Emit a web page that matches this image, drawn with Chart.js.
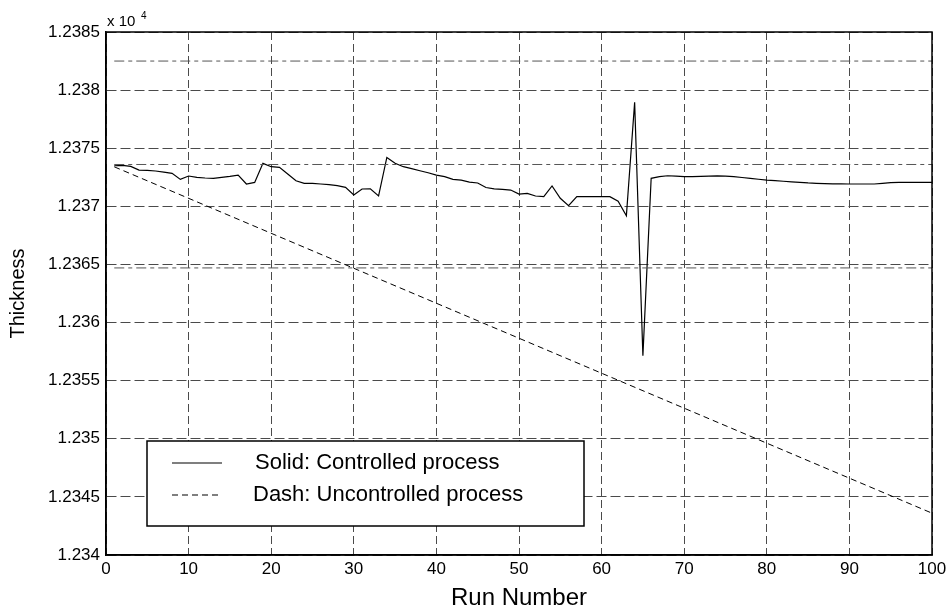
<!DOCTYPE html>
<html lang="en">
<head>
    <meta charset="UTF-8">
    <title>Thickness vs Run Number</title>
    <script src="https://cdn.jsdelivr.net/npm/chart.js"></script>
    <style>
        body { margin: 0; background: #fff; }
        #chart-container { width: 951px; height: 611px; }
    </style>
</head>
<body>
    <div id="chart-container">
        <canvas id="thicknessChart" width="951" height="611"></canvas>
    </div>
    <script>
        // thickness (controlled process), runs 1..100
        const controlled = [
            12373.49, 12373.53, 12373.44, 12373.12, 12373.10, 12373.04, 12372.95, 12372.84, 12372.32, 12372.61,
            12372.49, 12372.44, 12372.41, 12372.49, 12372.58, 12372.69, 12371.92, 12372.06, 12373.70, 12373.41,
            12373.35, 12372.78, 12372.20, 12371.98, 12371.98, 12371.92, 12371.86, 12371.78, 12371.63, 12370.97,
            12371.49, 12371.51, 12370.89, 12374.21, 12373.70, 12373.41, 12373.24, 12373.06, 12372.89, 12372.69,
            12372.55, 12372.32, 12372.26, 12372.09, 12372.01, 12371.62, 12371.51, 12371.46, 12371.40, 12371.06,
            12371.12, 12370.89, 12370.83, 12371.75, 12370.69, 12370.05, 12370.83, 12370.83, 12370.83, 12370.83,
            12370.83, 12370.45, 12369.19, 12378.95, 12357.14, 12372.41, 12372.55, 12372.63, 12372.60, 12372.55,
            12372.55, 12372.58, 12372.60, 12372.62, 12372.60, 12372.55, 12372.48, 12372.40, 12372.33, 12372.26,
            12372.21, 12372.16, 12372.11, 12372.06, 12372.01, 12371.98, 12371.96, 12371.94, 12371.93, 12371.92,
            12371.92, 12371.92, 12371.92, 12371.98, 12372.04, 12372.06, 12372.06, 12372.06, 12372.06, 12372.06
        ];
        const runs = controlled.map((v, i) => i + 1);

        // uncontrolled process is a straight drift
        const uncontrolledRuns = [1, 100];
        const uncontrolled = [12373.4, 12343.6];

        // horizontal reference lines (upper limit, target, lower limit)
        const limitRuns = [1, 100];
        const limits = [12382.5, 12373.6, 12364.7];

        const xTicks = [0, 10, 20, 30, 40, 50, 60, 70, 80, 90, 100];
        const yMin = 12340, yMax = 12385, yStep = 5;

        const legendLabels = ['Solid: Controlled process', 'Dash: Uncontrolled process'];
        const axisTitles = { x: 'Run Number', y: 'Thickness' };
        const FONT = '"Liberation Sans", Arial, sans-serif';
        const GRID = '#4a4a4a';

        const toPoints = (xs, ys) => xs.map((x, i) => ({ x: x, y: ys[i] }));

        const datasets = [];
        limits.forEach(v => {
            datasets.push({
                data: toPoints(limitRuns, limitRuns.map(() => v)),
                borderColor: '#555',
                borderWidth: 1,
                borderDash: [10, 4, 4, 4],
                pointRadius: 0
            });
        });
        datasets.push({
            label: legendLabels[1],
            data: toPoints(uncontrolledRuns, uncontrolled),
            borderColor: '#000',
            borderWidth: 1,
            borderDash: [6, 4],
            pointRadius: 0
        });
        datasets.push({
            label: legendLabels[0],
            data: toPoints(runs, controlled),
            borderColor: '#000',
            borderWidth: 1.2,
            pointRadius: 0,
            tension: 0
        });

        // axes box, exponent note and the boxed legend
        const decorations = {
            id: 'decorations',
            afterDraw(chart) {
                const ctx = chart.ctx;
                const a = chart.chartArea;
                ctx.save();
                ctx.strokeStyle = '#000';
                ctx.lineWidth = 1.5;
                ctx.setLineDash([]);
                ctx.strokeRect(a.left, a.top, a.right - a.left, a.bottom - a.top);

                ctx.fillStyle = '#000';
                ctx.textBaseline = 'alphabetic';
                ctx.font = '15px ' + FONT;
                ctx.fillText('x 10', a.left + 1, a.top - 6);
                ctx.font = '10px ' + FONT;
                ctx.fillText('4', a.left + 35, a.top - 13);

                // legend
                const box = { x: 147, y: 441, w: 437, h: 85 };
                ctx.fillStyle = '#fff';
                ctx.fillRect(box.x, box.y, box.w, box.h);
                ctx.lineWidth = 1.5;
                ctx.strokeRect(box.x, box.y, box.w, box.h);

                const rows = [
                    { y: 463, dash: [], text: legendLabels[0], tx: 255 },
                    { y: 495, dash: [6, 4], text: legendLabels[1], tx: 253 }
                ];
                rows.forEach(r => {
                    ctx.beginPath();
                    ctx.lineWidth = 1.2;
                    ctx.setLineDash(r.dash);
                    ctx.moveTo(172, r.y);
                    ctx.lineTo(222, r.y);
                    ctx.stroke();
                    ctx.setLineDash([]);
                    ctx.fillStyle = '#000';
                    ctx.font = '22px ' + FONT;
                    ctx.textBaseline = 'middle';
                    ctx.fillText(r.text, r.tx, r.y);
                });
                ctx.restore();
            }
        };

        const ctx = document.getElementById('thicknessChart').getContext('2d');
        new Chart(ctx, {
            type: 'line',
            data: { datasets: datasets },
            options: {
                responsive: false,
                animation: false,
                layout: { padding: { top: 32, right: 19, left: 0, bottom: 0 } },
                plugins: {
                    legend: { display: false },
                    tooltip: { enabled: false },
                    title: { display: false }
                },
                scales: {
                    x: {
                        type: 'linear',
                        min: 0,
                        max: 100,
                        afterBuildTicks: s => { s.ticks = xTicks.map(v => ({ value: v })); },
                        afterFit: s => { s.height = 56; },
                        grid: { color: GRID, lineWidth: 1, drawTicks: false },
                        border: { display: true, color: '#000', dash: [8, 4], width: 1.5 },
                        ticks: {
                            color: '#000',
                            padding: 4,
                            maxRotation: 0,
                            font: { family: FONT, size: 17 }
                        },
                        title: {
                            display: true,
                            text: axisTitles.x,
                            color: '#000',
                            padding: { top: 0, bottom: 1 },
                            font: { family: FONT, size: 24, lineHeight: 1 }
                        }
                    },
                    y: {
                        type: 'linear',
                        min: yMin,
                        max: yMax,
                        afterFit: s => { s.width = 106; },
                        grid: { color: GRID, lineWidth: 1, drawTicks: false },
                        border: { display: true, color: '#000', dash: [10, 4], width: 1.5 },
                        ticks: {
                            stepSize: yStep,
                            color: '#000',
                            padding: 6,
                            font: { family: FONT, size: 17 },
                            callback: v => String(Number((v / 10000).toFixed(5)))
                        },
                        title: {
                            display: true,
                            text: axisTitles.y,
                            color: '#000',
                            padding: { top: 6, bottom: 0 },
                            font: { family: FONT, size: 20 }
                        }
                    }
                }
            },
            plugins: [decorations]
        });
    </script>
</body>
</html>
